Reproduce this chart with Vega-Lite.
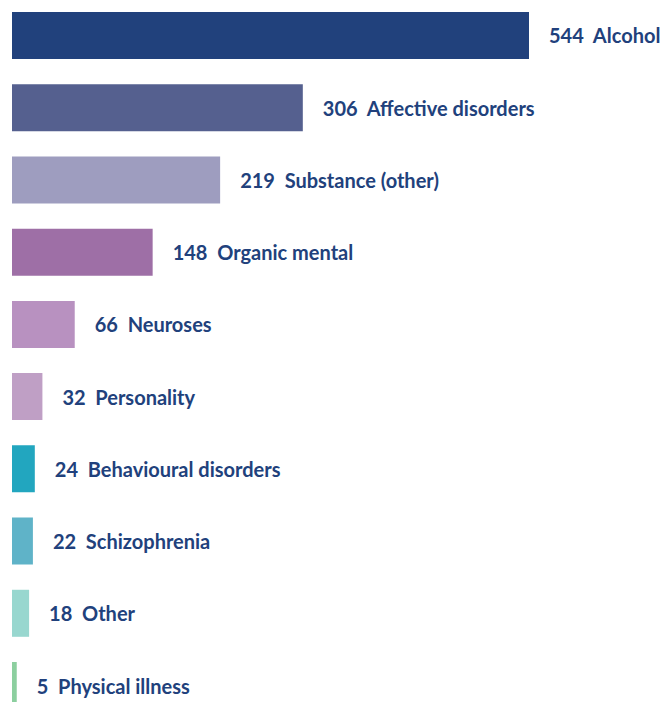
{
  "$schema": "https://vega.github.io/schema/vega-lite/v6.json",
  "autosize": {"type": "none"},
  "padding": {"left": 12, "right": 138, "top": 0, "bottom": 0},
  "width": 517,
  "height": 721,
  "background": "white",
  "data": {
    "values": [
      {"category": "Alcohol", "value": 544, "label": "544\u00a0\u00a0Alcohol", "order": 1},
      {"category": "Affective disorders", "value": 306, "label": "306\u00a0\u00a0Affective disorders", "order": 2},
      {"category": "Substance (other)", "value": 219, "label": "219\u00a0\u00a0Substance (other)", "order": 3},
      {"category": "Organic mental", "value": 148, "label": "148\u00a0\u00a0Organic mental", "order": 4},
      {"category": "Neuroses", "value": 66, "label": "66\u00a0\u00a0Neuroses", "order": 5},
      {"category": "Personality", "value": 32, "label": "32\u00a0\u00a0Personality", "order": 6},
      {"category": "Behavioural disorders", "value": 24, "label": "24\u00a0\u00a0Behavioural disorders", "order": 7},
      {"category": "Schizophrenia", "value": 22, "label": "22\u00a0\u00a0Schizophrenia", "order": 8},
      {"category": "Other", "value": 18, "label": "18\u00a0\u00a0Other", "order": 9},
      {"category": "Physical illness", "value": 5, "label": "5\u00a0\u00a0Physical illness", "order": 10}
    ]
  },
  "encoding": {
    "y": {
      "field": "category",
      "type": "nominal",
      "sort": {"field": "order", "order": "ascending"},
      "scale": {"paddingInner": 0.349, "paddingOuter": 0.166},
      "axis": null
    },
    "x": {
      "field": "value",
      "type": "quantitative",
      "scale": {"domain": [0, 544], "nice": false, "zero": true},
      "axis": null
    }
  },
  "layer": [
    {
      "mark": {"type": "bar", "cornerRadius": 0},
      "encoding": {
        "color": {
          "field": "category",
          "type": "nominal",
          "legend": null,
          "scale": {
            "domain": ["Alcohol", "Affective disorders", "Substance (other)", "Organic mental", "Neuroses", "Personality", "Behavioural disorders", "Schizophrenia", "Other", "Physical illness"],
            "range": ["#21417c", "#55608f", "#9e9dbf", "#9e6fa6", "#b891c0", "#bf9fc5", "#22a6bf", "#5fb3c8", "#98d7cf", "#8ccf9f"]
          }
        }
      }
    },
    {
      "mark": {
        "type": "text",
        "align": "left",
        "baseline": "middle",
        "dx": 20,
        "dy": 2,
        "font": "Lato",
        "fontWeight": "bold",
        "fontSize": 20,
        "color": "#21417c"
      },
      "encoding": {
        "text": {"field": "label", "type": "nominal"}
      }
    }
  ],
  "config": {"view": {"stroke": null}}
}
